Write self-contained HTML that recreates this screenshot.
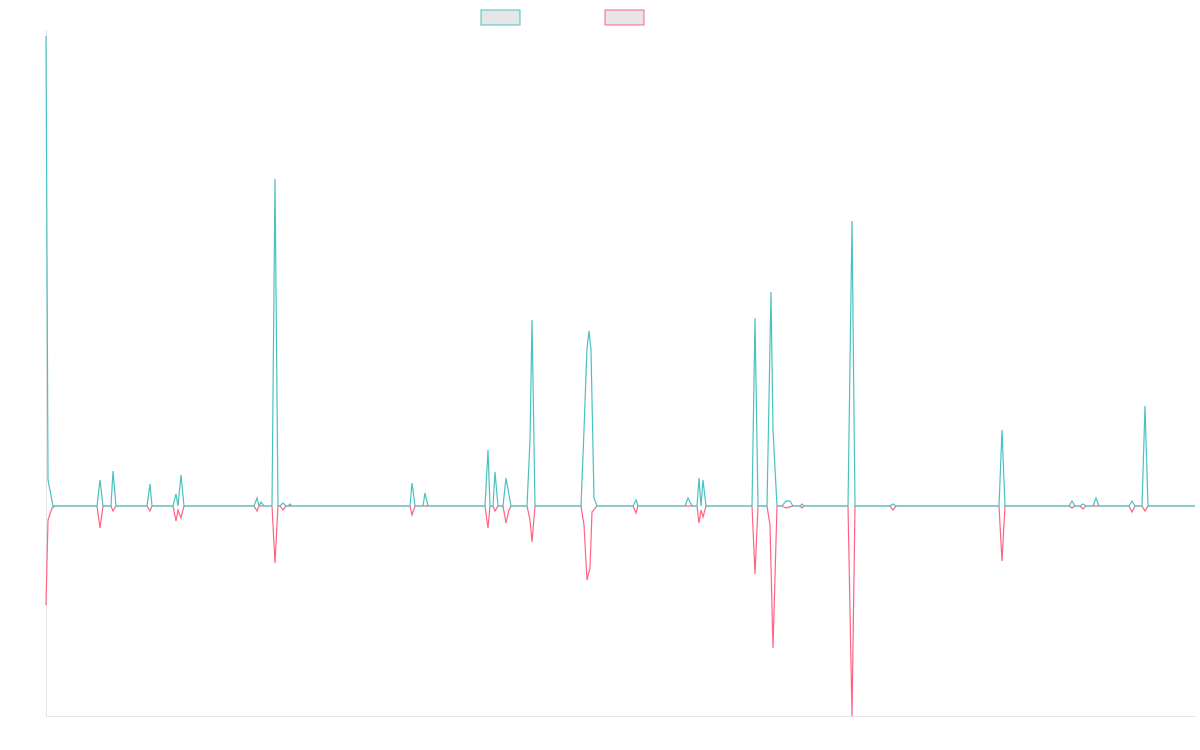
<!DOCTYPE html>
<html><head><meta charset="utf-8"><style>html,body{margin:0;padding:0;background:#fff;}svg{display:block}</style></head>
<body>
<svg width="1200" height="750" xmlns="http://www.w3.org/2000/svg">
<rect x="481" y="10" width="39" height="15" fill="#e6e6e6" stroke="#4bc0c0" stroke-width="1"/>
<rect x="605" y="10" width="39" height="15" fill="#e6e6e6" stroke="#ff6384" stroke-width="1"/>
<line x1="46.5" y1="30" x2="46.5" y2="716" stroke="#e5e5e5"/>
<line x1="46" y1="716.5" x2="1195" y2="716.5" stroke="#e5e5e5"/>
<polyline fill="none" stroke="#ff6384" stroke-width="1.2" points="46,605 48,520 52,508 55,506 97,506 100,528 103,506 111,506 113,511 116,506 147,506 150,511 152,506 173,506 176,521 178,510 181,518 184,506 254,506 257,511 259,506 272,506 275,563 278,506 280,506 283,510 286,506 410,506 412,515 415,506 485,506 488,528 490,506 493,506 495,511 498,506 503,506 506,523 509,510 511,506 527,506 530,520 532,542 535,506 581,506 584,525 587,580 590,568 592,512 597,506 633,506 636,513 638,506 697,506 699,523 701,510 703,517 706,506 752,506 755,574 758,506 767,506 770,525 773,648 777,506 782,506 786,508 793,506 800,506 802,508 804,506 848,506 852,716 855,506 890,506 893,510 896,506 999,506 1002,561 1005,506 1069,506 1072,508 1075,506 1080,506 1083,509 1086,506 1129,506 1132,512 1135,506 1142,506 1145,511 1148,506 1195,506"/>
<polyline fill="none" stroke="#4bc0c0" stroke-width="1.2" points="46,36 48,480 53,506 97,506 100,480 103,506 111,506 113,471 116,506 147,506 150,484 152,506 173,506 176,494 178,506 181,475 184,506 254,506 257,498 259,506 261,502 264,506 272,506 275,179 278,506 280,506 283,503 286,506 288,506 290,504 292,506 410,506 412,483 415,506 423,506 425,493 428,506 485,506 488,450 490,506 493,506 495,472 498,506 503,506 506,478 511,506 527,506 530,440 532,320 535,506 581,506 584,430 587,348 589,331 591,350 594,498 597,506 633,506 636,500 638,506 685,506 688,498 692,506 697,506 699,478 701,506 703,480 706,506 752,506 755,318 758,506 767,506 771,292 773,430 777,506 782,506 786,501 790,501 793,506 800,506 802,504 804,506 848,506 852,221 855,506 890,506 893,504 896,506 999,506 1002,430 1005,506 1069,506 1072,501 1075,506 1080,506 1083,504 1086,506 1093,506 1096,498 1099,506 1129,506 1132,501 1135,506 1142,506 1145,406 1148,506 1195,506"/>
</svg>
</body></html>
